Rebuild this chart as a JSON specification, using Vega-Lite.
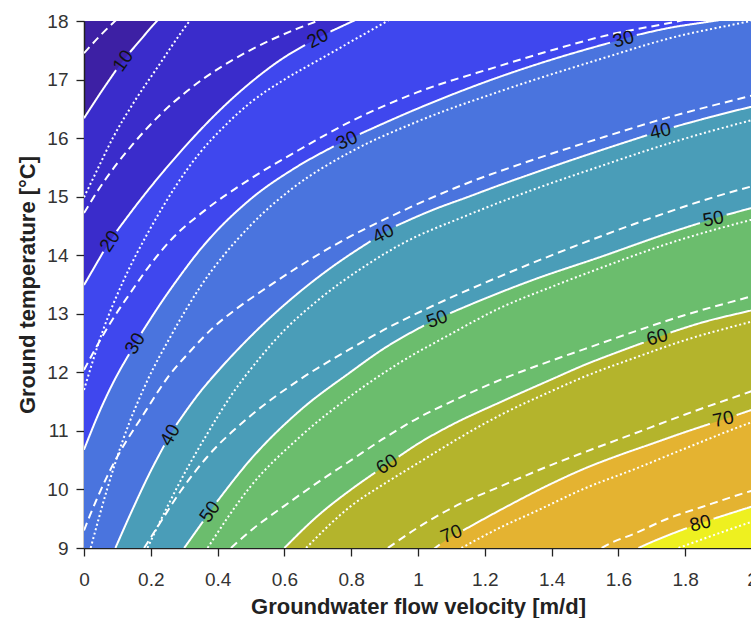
{
  "$schema": "https://vega.github.io/schema/vega-lite/v6.json",
  "width": 668,
  "height": 527,
  "autosize": {"type": "none"},
  "padding": {"left": 84, "top": 21, "right": 0, "bottom": 70},
  "background": "white",
  "config": {
    "view": {"fill": "#3d20a4", "stroke": null},
    "font": "Liberation Sans",
    "axis": {"grid": false, "domainColor": "#222", "tickColor": "#222", "labelColor": "#333", "titleColor": "#222", "labelFont": "Liberation Sans", "titleFont": "Liberation Sans", "labelFontSize": 19, "titleFontSize": 22, "titleFontWeight": "bold", "tickSize": 8, "domainWidth": 1.5, "tickWidth": 1.3, "labelFlush": false, "labelOverlap": false}
  },
  "datasets": {
    "curves": [
      {"lvl":10,"sty":"solid","seg":"a","v":0,"T":16.34},
      {"lvl":10,"sty":"solid","seg":"a","v":0.048,"T":16.76},
      {"lvl":10,"sty":"solid","seg":"a","v":0.096,"T":17.16},
      {"lvl":10,"sty":"solid","seg":"b","v":0.138,"T":17.47},
      {"lvl":10,"sty":"solid","seg":"b","v":0.168,"T":17.67},
      {"lvl":10,"sty":"solid","seg":"b","v":0.204,"T":17.91},
      {"lvl":10,"sty":"solid","seg":"b","v":0.3,"T":18.45},
      {"lvl":10,"sty":"solid","seg":"b","v":0.6,"T":19.5},
      {"lvl":10,"sty":"solid","seg":"b","v":2.05,"T":22},

      {"lvl":20,"sty":"solid","seg":"a","v":0,"T":13.49},
      {"lvl":20,"sty":"solid","seg":"a","v":0.058,"T":14.06},
      {"lvl":20,"sty":"solid","seg":"b","v":0.098,"T":14.41},
      {"lvl":20,"sty":"solid","seg":"b","v":0.168,"T":14.94},
      {"lvl":20,"sty":"solid","seg":"b","v":0.297,"T":15.82},
      {"lvl":20,"sty":"solid","seg":"b","v":0.4,"T":16.44},
      {"lvl":20,"sty":"solid","seg":"b","v":0.497,"T":16.94},
      {"lvl":20,"sty":"solid","seg":"b","v":0.6,"T":17.38},
      {"lvl":20,"sty":"solid","seg":"b","v":0.662,"T":17.59},
      {"lvl":20,"sty":"solid","seg":"c","v":0.738,"T":17.82},
      {"lvl":20,"sty":"solid","seg":"c","v":0.806,"T":18.0},
      {"lvl":20,"sty":"solid","seg":"c","v":1.2,"T":19},
      {"lvl":20,"sty":"solid","seg":"c","v":2.05,"T":21},

      {"lvl":30,"sty":"solid","seg":"a","v":0,"T":10.68},
      {"lvl":30,"sty":"solid","seg":"a","v":0.048,"T":11.35},
      {"lvl":30,"sty":"solid","seg":"a","v":0.087,"T":11.82},
      {"lvl":30,"sty":"solid","seg":"a","v":0.135,"T":12.31},
      {"lvl":30,"sty":"solid","seg":"b","v":0.172,"T":12.67},
      {"lvl":30,"sty":"solid","seg":"b","v":0.237,"T":13.24},
      {"lvl":30,"sty":"solid","seg":"b","v":0.279,"T":13.58},
      {"lvl":30,"sty":"solid","seg":"b","v":0.347,"T":14.09},
      {"lvl":30,"sty":"solid","seg":"b","v":0.497,"T":14.95},
      {"lvl":30,"sty":"solid","seg":"b","v":0.626,"T":15.47},
      {"lvl":30,"sty":"solid","seg":"b","v":0.748,"T":15.86},
      {"lvl":30,"sty":"solid","seg":"c","v":0.826,"T":16.07},
      {"lvl":30,"sty":"solid","seg":"c","v":0.997,"T":16.5},
      {"lvl":30,"sty":"solid","seg":"c","v":1.246,"T":17.05},
      {"lvl":30,"sty":"solid","seg":"c","v":1.4,"T":17.34},
      {"lvl":30,"sty":"solid","seg":"c","v":1.575,"T":17.63},
      {"lvl":30,"sty":"solid","seg":"d","v":1.655,"T":17.76},
      {"lvl":30,"sty":"solid","seg":"d","v":1.75,"T":17.88},
      {"lvl":30,"sty":"solid","seg":"d","v":1.885,"T":18.0},
      {"lvl":30,"sty":"solid","seg":"d","v":2.05,"T":18.15},

      {"lvl":40,"sty":"solid","seg":"a","v":0.094,"T":9.0},
      {"lvl":40,"sty":"solid","seg":"a","v":0.147,"T":9.68},
      {"lvl":40,"sty":"solid","seg":"a","v":0.195,"T":10.26},
      {"lvl":40,"sty":"solid","seg":"a","v":0.24,"T":10.75},
      {"lvl":40,"sty":"solid","seg":"b","v":0.276,"T":11.1},
      {"lvl":40,"sty":"solid","seg":"b","v":0.347,"T":11.66},
      {"lvl":40,"sty":"solid","seg":"b","v":0.407,"T":12.06},
      {"lvl":40,"sty":"solid","seg":"b","v":0.5,"T":12.62},
      {"lvl":40,"sty":"solid","seg":"b","v":0.647,"T":13.38},
      {"lvl":40,"sty":"solid","seg":"b","v":0.75,"T":13.83},
      {"lvl":40,"sty":"solid","seg":"b","v":0.858,"T":14.24},
      {"lvl":40,"sty":"solid","seg":"c","v":0.934,"T":14.5},
      {"lvl":40,"sty":"solid","seg":"c","v":1.047,"T":14.78},
      {"lvl":40,"sty":"solid","seg":"c","v":1.147,"T":14.99},
      {"lvl":40,"sty":"solid","seg":"c","v":1.246,"T":15.2},
      {"lvl":40,"sty":"solid","seg":"c","v":1.345,"T":15.4},
      {"lvl":40,"sty":"solid","seg":"c","v":1.546,"T":15.79},
      {"lvl":40,"sty":"solid","seg":"c","v":1.686,"T":16.05},
      {"lvl":40,"sty":"solid","seg":"d","v":1.766,"T":16.19},
      {"lvl":40,"sty":"solid","seg":"d","v":1.995,"T":16.53},
      {"lvl":40,"sty":"solid","seg":"d","v":2.05,"T":16.6},

      {"lvl":50,"sty":"solid","seg":"a","v":0.3,"T":9.0},
      {"lvl":50,"sty":"solid","seg":"a","v":0.356,"T":9.45},
      {"lvl":50,"sty":"solid","seg":"b","v":0.398,"T":9.79},
      {"lvl":50,"sty":"solid","seg":"b","v":0.497,"T":10.5},
      {"lvl":50,"sty":"solid","seg":"b","v":0.647,"T":11.35},
      {"lvl":50,"sty":"solid","seg":"b","v":0.797,"T":12.0},
      {"lvl":50,"sty":"solid","seg":"b","v":0.896,"T":12.4},
      {"lvl":50,"sty":"solid","seg":"b","v":1.018,"T":12.8},
      {"lvl":50,"sty":"solid","seg":"c","v":1.096,"T":13.01},
      {"lvl":50,"sty":"solid","seg":"c","v":1.196,"T":13.25},
      {"lvl":50,"sty":"solid","seg":"c","v":1.345,"T":13.58},
      {"lvl":50,"sty":"solid","seg":"c","v":1.546,"T":13.97},
      {"lvl":50,"sty":"solid","seg":"c","v":1.746,"T":14.37},
      {"lvl":50,"sty":"solid","seg":"c","v":1.844,"T":14.55},
      {"lvl":50,"sty":"solid","seg":"d","v":1.924,"T":14.69},
      {"lvl":50,"sty":"solid","seg":"d","v":1.995,"T":14.8},
      {"lvl":50,"sty":"solid","seg":"d","v":2.05,"T":14.88},

      {"lvl":60,"sty":"solid","seg":"a","v":0.6,"T":9.0},
      {"lvl":60,"sty":"solid","seg":"a","v":0.7,"T":9.55},
      {"lvl":60,"sty":"solid","seg":"a","v":0.8,"T":10.0},
      {"lvl":60,"sty":"solid","seg":"a","v":0.872,"T":10.29},
      {"lvl":60,"sty":"solid","seg":"b","v":0.942,"T":10.56},
      {"lvl":60,"sty":"solid","seg":"b","v":1.0,"T":10.78},
      {"lvl":60,"sty":"solid","seg":"b","v":1.1,"T":11.1},
      {"lvl":60,"sty":"solid","seg":"b","v":1.25,"T":11.5},
      {"lvl":60,"sty":"solid","seg":"b","v":1.4,"T":11.88},
      {"lvl":60,"sty":"solid","seg":"b","v":1.5,"T":12.13},
      {"lvl":60,"sty":"solid","seg":"b","v":1.6,"T":12.35},
      {"lvl":60,"sty":"solid","seg":"b","v":1.676,"T":12.51},
      {"lvl":60,"sty":"solid","seg":"c","v":1.756,"T":12.68},
      {"lvl":60,"sty":"solid","seg":"c","v":1.85,"T":12.85},
      {"lvl":60,"sty":"solid","seg":"c","v":2.0,"T":13.06},
      {"lvl":60,"sty":"solid","seg":"c","v":2.05,"T":13.13},

      {"lvl":70,"sty":"solid","seg":"a","v":1.04,"T":8.95},
      {"lvl":70,"sty":"solid","seg":"a","v":1.065,"T":9.06},
      {"lvl":70,"sty":"solid","seg":"b","v":1.135,"T":9.3},
      {"lvl":70,"sty":"solid","seg":"b","v":1.25,"T":9.66},
      {"lvl":70,"sty":"solid","seg":"b","v":1.4,"T":10.1},
      {"lvl":70,"sty":"solid","seg":"b","v":1.5,"T":10.36},
      {"lvl":70,"sty":"solid","seg":"b","v":1.6,"T":10.58},
      {"lvl":70,"sty":"solid","seg":"b","v":1.7,"T":10.78},
      {"lvl":70,"sty":"solid","seg":"b","v":1.8,"T":10.98},
      {"lvl":70,"sty":"solid","seg":"b","v":1.874,"T":11.12},
      {"lvl":70,"sty":"solid","seg":"c","v":1.954,"T":11.27},
      {"lvl":70,"sty":"solid","seg":"c","v":2.0,"T":11.36},
      {"lvl":70,"sty":"solid","seg":"c","v":2.05,"T":11.45},

      {"lvl":80,"sty":"solid","seg":"a","v":1.66,"T":9.0},
      {"lvl":80,"sty":"solid","seg":"a","v":1.687,"T":9.07},
      {"lvl":80,"sty":"solid","seg":"a","v":1.75,"T":9.22},
      {"lvl":80,"sty":"solid","seg":"a","v":1.805,"T":9.34},
      {"lvl":80,"sty":"solid","seg":"b","v":1.885,"T":9.5},
      {"lvl":80,"sty":"solid","seg":"b","v":1.995,"T":9.7},
      {"lvl":80,"sty":"solid","seg":"b","v":2.05,"T":9.8},

      {"lvl":10,"sty":"dashed","seg":"a","v":0,"T":17.45},
      {"lvl":10,"sty":"dashed","seg":"a","v":0.05,"T":17.76},
      {"lvl":10,"sty":"dashed","seg":"a","v":0.093,"T":18.0},
      {"lvl":10,"sty":"dashed","seg":"a","v":0.15,"T":18.3},
      {"lvl":10,"sty":"dotted","seg":"a","v":0,"T":14.99},
      {"lvl":10,"sty":"dotted","seg":"a","v":0.039,"T":15.45},
      {"lvl":10,"sty":"dotted","seg":"a","v":0.087,"T":16.01},
      {"lvl":10,"sty":"dotted","seg":"a","v":0.147,"T":16.59},
      {"lvl":10,"sty":"dotted","seg":"a","v":0.219,"T":17.2},
      {"lvl":10,"sty":"dotted","seg":"a","v":0.303,"T":17.9},
      {"lvl":10,"sty":"dotted","seg":"a","v":0.35,"T":18.25},

      {"lvl":20,"sty":"dashed","seg":"a","v":0,"T":14.72},
      {"lvl":20,"sty":"dashed","seg":"a","v":0.048,"T":15.16},
      {"lvl":20,"sty":"dashed","seg":"a","v":0.147,"T":15.9},
      {"lvl":20,"sty":"dashed","seg":"a","v":0.228,"T":16.4},
      {"lvl":20,"sty":"dashed","seg":"a","v":0.308,"T":16.8},
      {"lvl":20,"sty":"dashed","seg":"a","v":0.497,"T":17.5},
      {"lvl":20,"sty":"dashed","seg":"a","v":0.626,"T":17.84},
      {"lvl":20,"sty":"dashed","seg":"a","v":0.698,"T":18.0},
      {"lvl":20,"sty":"dashed","seg":"a","v":0.8,"T":18.25},
      {"lvl":20,"sty":"dotted","seg":"a","v":0,"T":11.7},
      {"lvl":20,"sty":"dotted","seg":"a","v":0.057,"T":12.72},
      {"lvl":20,"sty":"dotted","seg":"a","v":0.117,"T":13.55},
      {"lvl":20,"sty":"dotted","seg":"a","v":0.198,"T":14.45},
      {"lvl":20,"sty":"dotted","seg":"a","v":0.347,"T":15.75},
      {"lvl":20,"sty":"dotted","seg":"a","v":0.42,"T":16.2},
      {"lvl":20,"sty":"dotted","seg":"a","v":0.497,"T":16.6},
      {"lvl":20,"sty":"dotted","seg":"a","v":0.6,"T":17.0},
      {"lvl":20,"sty":"dotted","seg":"a","v":0.698,"T":17.32},
      {"lvl":20,"sty":"dotted","seg":"a","v":0.8,"T":17.65},
      {"lvl":20,"sty":"dotted","seg":"a","v":0.908,"T":18.0},
      {"lvl":20,"sty":"dotted","seg":"a","v":1.0,"T":18.3},

      {"lvl":30,"sty":"dashed","seg":"a","v":0,"T":12.04},
      {"lvl":30,"sty":"dashed","seg":"a","v":0.027,"T":12.33},
      {"lvl":30,"sty":"dashed","seg":"a","v":0.084,"T":12.89},
      {"lvl":30,"sty":"dashed","seg":"a","v":0.138,"T":13.35},
      {"lvl":30,"sty":"dashed","seg":"a","v":0.2,"T":13.85},
      {"lvl":30,"sty":"dashed","seg":"a","v":0.27,"T":14.32},
      {"lvl":30,"sty":"dashed","seg":"a","v":0.356,"T":14.74},
      {"lvl":30,"sty":"dashed","seg":"a","v":0.497,"T":15.3},
      {"lvl":30,"sty":"dashed","seg":"a","v":0.638,"T":15.78},
      {"lvl":30,"sty":"dashed","seg":"a","v":0.797,"T":16.28},
      {"lvl":30,"sty":"dashed","seg":"a","v":0.997,"T":16.78},
      {"lvl":30,"sty":"dashed","seg":"a","v":1.237,"T":17.22},
      {"lvl":30,"sty":"dashed","seg":"a","v":1.4,"T":17.5},
      {"lvl":30,"sty":"dashed","seg":"a","v":1.576,"T":17.77},
      {"lvl":30,"sty":"dashed","seg":"a","v":1.765,"T":17.98},
      {"lvl":30,"sty":"dashed","seg":"a","v":1.9,"T":18.15},
      {"lvl":30,"sty":"dotted","seg":"a","v":0.02,"T":9.0},
      {"lvl":30,"sty":"dotted","seg":"a","v":0.069,"T":10.0},
      {"lvl":30,"sty":"dotted","seg":"a","v":0.117,"T":10.85},
      {"lvl":30,"sty":"dotted","seg":"a","v":0.189,"T":11.85},
      {"lvl":30,"sty":"dotted","seg":"a","v":0.258,"T":12.6},
      {"lvl":30,"sty":"dotted","seg":"a","v":0.347,"T":13.45},
      {"lvl":30,"sty":"dotted","seg":"a","v":0.497,"T":14.5},
      {"lvl":30,"sty":"dotted","seg":"a","v":0.626,"T":15.15},
      {"lvl":30,"sty":"dotted","seg":"a","v":0.797,"T":15.76},
      {"lvl":30,"sty":"dotted","seg":"a","v":0.997,"T":16.28},
      {"lvl":30,"sty":"dotted","seg":"a","v":1.246,"T":16.8},
      {"lvl":30,"sty":"dotted","seg":"a","v":1.546,"T":17.35},
      {"lvl":30,"sty":"dotted","seg":"a","v":1.75,"T":17.7},
      {"lvl":30,"sty":"dotted","seg":"a","v":1.995,"T":18.0},
      {"lvl":30,"sty":"dotted","seg":"a","v":2.05,"T":18.07},

      {"lvl":40,"sty":"dashed","seg":"a","v":0,"T":9.3},
      {"lvl":40,"sty":"dashed","seg":"a","v":0.018,"T":9.56},
      {"lvl":40,"sty":"dashed","seg":"a","v":0.069,"T":10.22},
      {"lvl":40,"sty":"dashed","seg":"a","v":0.189,"T":11.38},
      {"lvl":40,"sty":"dashed","seg":"a","v":0.249,"T":11.9},
      {"lvl":40,"sty":"dashed","seg":"a","v":0.318,"T":12.36},
      {"lvl":40,"sty":"dashed","seg":"a","v":0.386,"T":12.76},
      {"lvl":40,"sty":"dashed","seg":"a","v":0.46,"T":13.1},
      {"lvl":40,"sty":"dashed","seg":"a","v":0.548,"T":13.45},
      {"lvl":40,"sty":"dashed","seg":"a","v":0.746,"T":14.16},
      {"lvl":40,"sty":"dashed","seg":"a","v":0.947,"T":14.74},
      {"lvl":40,"sty":"dashed","seg":"a","v":1.147,"T":15.23},
      {"lvl":40,"sty":"dashed","seg":"a","v":1.345,"T":15.63},
      {"lvl":40,"sty":"dashed","seg":"a","v":1.546,"T":16.0},
      {"lvl":40,"sty":"dashed","seg":"a","v":1.747,"T":16.35},
      {"lvl":40,"sty":"dashed","seg":"a","v":1.995,"T":16.72},
      {"lvl":40,"sty":"dashed","seg":"a","v":2.05,"T":16.8},
      {"lvl":40,"sty":"dotted","seg":"a","v":0.19,"T":9.0},
      {"lvl":40,"sty":"dotted","seg":"a","v":0.249,"T":9.7},
      {"lvl":40,"sty":"dotted","seg":"a","v":0.309,"T":10.36},
      {"lvl":40,"sty":"dotted","seg":"a","v":0.368,"T":10.94},
      {"lvl":40,"sty":"dotted","seg":"a","v":0.44,"T":11.6},
      {"lvl":40,"sty":"dotted","seg":"a","v":0.527,"T":12.25},
      {"lvl":40,"sty":"dotted","seg":"a","v":0.6,"T":12.72},
      {"lvl":40,"sty":"dotted","seg":"a","v":0.698,"T":13.22},
      {"lvl":40,"sty":"dotted","seg":"a","v":0.848,"T":13.84},
      {"lvl":40,"sty":"dotted","seg":"a","v":0.947,"T":14.18},
      {"lvl":40,"sty":"dotted","seg":"a","v":1.147,"T":14.68},
      {"lvl":40,"sty":"dotted","seg":"a","v":1.345,"T":15.12},
      {"lvl":40,"sty":"dotted","seg":"a","v":1.546,"T":15.52},
      {"lvl":40,"sty":"dotted","seg":"a","v":1.746,"T":15.9},
      {"lvl":40,"sty":"dotted","seg":"a","v":1.995,"T":16.3},
      {"lvl":40,"sty":"dotted","seg":"a","v":2.05,"T":16.38},

      {"lvl":50,"sty":"dashed","seg":"a","v":0.18,"T":9.0},
      {"lvl":50,"sty":"dashed","seg":"a","v":0.228,"T":9.43},
      {"lvl":50,"sty":"dashed","seg":"a","v":0.288,"T":9.96},
      {"lvl":50,"sty":"dashed","seg":"a","v":0.368,"T":10.55},
      {"lvl":50,"sty":"dashed","seg":"a","v":0.497,"T":11.25},
      {"lvl":50,"sty":"dashed","seg":"a","v":0.647,"T":11.88},
      {"lvl":50,"sty":"dashed","seg":"a","v":0.797,"T":12.4},
      {"lvl":50,"sty":"dashed","seg":"a","v":0.896,"T":12.72},
      {"lvl":50,"sty":"dashed","seg":"a","v":1.046,"T":13.14},
      {"lvl":50,"sty":"dashed","seg":"a","v":1.246,"T":13.64},
      {"lvl":50,"sty":"dashed","seg":"a","v":1.396,"T":13.99},
      {"lvl":50,"sty":"dashed","seg":"a","v":1.546,"T":14.32},
      {"lvl":50,"sty":"dashed","seg":"a","v":1.7,"T":14.64},
      {"lvl":50,"sty":"dashed","seg":"a","v":1.845,"T":14.92},
      {"lvl":50,"sty":"dashed","seg":"a","v":1.995,"T":15.17},
      {"lvl":50,"sty":"dashed","seg":"a","v":2.05,"T":15.25},
      {"lvl":50,"sty":"dotted","seg":"a","v":0.37,"T":9.0},
      {"lvl":50,"sty":"dotted","seg":"a","v":0.497,"T":10.04},
      {"lvl":50,"sty":"dotted","seg":"a","v":0.647,"T":10.9},
      {"lvl":50,"sty":"dotted","seg":"a","v":0.797,"T":11.59},
      {"lvl":50,"sty":"dotted","seg":"a","v":0.947,"T":12.17},
      {"lvl":50,"sty":"dotted","seg":"a","v":1.087,"T":12.62},
      {"lvl":50,"sty":"dotted","seg":"a","v":1.246,"T":13.1},
      {"lvl":50,"sty":"dotted","seg":"a","v":1.4,"T":13.46},
      {"lvl":50,"sty":"dotted","seg":"a","v":1.546,"T":13.78},
      {"lvl":50,"sty":"dotted","seg":"a","v":1.75,"T":14.2},
      {"lvl":50,"sty":"dotted","seg":"a","v":1.995,"T":14.6},
      {"lvl":50,"sty":"dotted","seg":"a","v":2.05,"T":14.68},

      {"lvl":60,"sty":"dashed","seg":"a","v":0.44,"T":9.0},
      {"lvl":60,"sty":"dashed","seg":"a","v":0.5,"T":9.3},
      {"lvl":60,"sty":"dashed","seg":"a","v":0.6,"T":9.72},
      {"lvl":60,"sty":"dashed","seg":"a","v":0.7,"T":10.12},
      {"lvl":60,"sty":"dashed","seg":"a","v":0.8,"T":10.5},
      {"lvl":60,"sty":"dashed","seg":"a","v":0.9,"T":10.88},
      {"lvl":60,"sty":"dashed","seg":"a","v":1.0,"T":11.22},
      {"lvl":60,"sty":"dashed","seg":"a","v":1.1,"T":11.5},
      {"lvl":60,"sty":"dashed","seg":"a","v":1.25,"T":11.88},
      {"lvl":60,"sty":"dashed","seg":"a","v":1.4,"T":12.2},
      {"lvl":60,"sty":"dashed","seg":"a","v":1.5,"T":12.4},
      {"lvl":60,"sty":"dashed","seg":"a","v":1.65,"T":12.7},
      {"lvl":60,"sty":"dashed","seg":"a","v":1.8,"T":12.98},
      {"lvl":60,"sty":"dashed","seg":"a","v":2.0,"T":13.3},
      {"lvl":60,"sty":"dashed","seg":"a","v":2.05,"T":13.38},
      {"lvl":60,"sty":"dotted","seg":"a","v":0.665,"T":9.0},
      {"lvl":60,"sty":"dotted","seg":"a","v":0.8,"T":9.72},
      {"lvl":60,"sty":"dotted","seg":"a","v":0.9,"T":10.1},
      {"lvl":60,"sty":"dotted","seg":"a","v":1.0,"T":10.45},
      {"lvl":60,"sty":"dotted","seg":"a","v":1.1,"T":10.8},
      {"lvl":60,"sty":"dotted","seg":"a","v":1.25,"T":11.28},
      {"lvl":60,"sty":"dotted","seg":"a","v":1.4,"T":11.68},
      {"lvl":60,"sty":"dotted","seg":"a","v":1.5,"T":11.93},
      {"lvl":60,"sty":"dotted","seg":"a","v":1.65,"T":12.25},
      {"lvl":60,"sty":"dotted","seg":"a","v":1.8,"T":12.55},
      {"lvl":60,"sty":"dotted","seg":"a","v":2.0,"T":12.87},
      {"lvl":60,"sty":"dotted","seg":"a","v":2.05,"T":12.95},

      {"lvl":70,"sty":"dashed","seg":"a","v":0.91,"T":9.0},
      {"lvl":70,"sty":"dashed","seg":"a","v":1.0,"T":9.35},
      {"lvl":70,"sty":"dashed","seg":"a","v":1.1,"T":9.68},
      {"lvl":70,"sty":"dashed","seg":"a","v":1.25,"T":10.06},
      {"lvl":70,"sty":"dashed","seg":"a","v":1.4,"T":10.42},
      {"lvl":70,"sty":"dashed","seg":"a","v":1.5,"T":10.64},
      {"lvl":70,"sty":"dashed","seg":"a","v":1.65,"T":10.96},
      {"lvl":70,"sty":"dashed","seg":"a","v":1.8,"T":11.28},
      {"lvl":70,"sty":"dashed","seg":"a","v":2.0,"T":11.68},
      {"lvl":70,"sty":"dashed","seg":"a","v":2.05,"T":11.78},
      {"lvl":70,"sty":"dotted","seg":"a","v":1.13,"T":9.0},
      {"lvl":70,"sty":"dotted","seg":"a","v":1.25,"T":9.36},
      {"lvl":70,"sty":"dotted","seg":"a","v":1.35,"T":9.62},
      {"lvl":70,"sty":"dotted","seg":"a","v":1.5,"T":10.02},
      {"lvl":70,"sty":"dotted","seg":"a","v":1.65,"T":10.35},
      {"lvl":70,"sty":"dotted","seg":"a","v":1.8,"T":10.7},
      {"lvl":70,"sty":"dotted","seg":"a","v":2.0,"T":11.15},
      {"lvl":70,"sty":"dotted","seg":"a","v":2.05,"T":11.25},

      {"lvl":80,"sty":"dashed","seg":"a","v":1.55,"T":9.0},
      {"lvl":80,"sty":"dashed","seg":"a","v":1.576,"T":9.08},
      {"lvl":80,"sty":"dashed","seg":"a","v":1.65,"T":9.25},
      {"lvl":80,"sty":"dashed","seg":"a","v":1.747,"T":9.5},
      {"lvl":80,"sty":"dashed","seg":"a","v":1.85,"T":9.7},
      {"lvl":80,"sty":"dashed","seg":"a","v":1.995,"T":9.97},
      {"lvl":80,"sty":"dashed","seg":"a","v":2.05,"T":10.06},
      {"lvl":80,"sty":"dotted","seg":"a","v":1.78,"T":9.0},
      {"lvl":80,"sty":"dotted","seg":"a","v":1.9,"T":9.25},
      {"lvl":80,"sty":"dotted","seg":"a","v":2.0,"T":9.45},
      {"lvl":80,"sty":"dotted","seg":"a","v":2.05,"T":9.55}
    ],
    "labels": [
      {"txt":"10","v":0.117,"T":17.32,"ang":-55},
      {"txt":"20","v":0.078,"T":14.24,"ang":-57},
      {"txt":"20","v":0.7,"T":17.7,"ang":-28},
      {"txt":"30","v":0.153,"T":12.49,"ang":-59},
      {"txt":"30","v":0.787,"T":15.96,"ang":-25},
      {"txt":"30","v":1.615,"T":17.69,"ang":-15},
      {"txt":"40","v":0.258,"T":10.93,"ang":-60},
      {"txt":"40","v":0.896,"T":14.37,"ang":-27},
      {"txt":"40","v":1.726,"T":16.12,"ang":-13},
      {"txt":"50","v":0.377,"T":9.62,"ang":-55},
      {"txt":"50","v":1.057,"T":12.91,"ang":-20},
      {"txt":"50","v":1.884,"T":14.62,"ang":-10},
      {"txt":"60","v":0.907,"T":10.43,"ang":-33},
      {"txt":"60","v":1.716,"T":12.6,"ang":-15},
      {"txt":"70","v":1.1,"T":9.24,"ang":-22},
      {"txt":"70","v":1.914,"T":11.2,"ang":-12},
      {"txt":"80","v":1.845,"T":9.42,"ang":-14}
    ]
  },
  "encoding": {
    "x": {"field": "v", "type": "quantitative", "scale": {"domain": [0, 2], "nice": false, "zero": false},
      "axis": {"title": "Groundwater flow velocity [m/d]", "values": [0,0.2,0.4,0.6,0.8,1,1.2,1.4,1.6,1.8,2], "format": "~g", "labelPadding": 14, "titlePadding": 7}},
    "y": {"field": "T", "type": "quantitative", "stack": null, "scale": {"domain": [9, 18], "nice": false, "zero": false},
      "axis": {"title": "Ground temperature [°C]", "values": [9,10,11,12,13,14,15,16,17,18], "format": "d", "labelPadding": 8, "titlePadding": 7}}
  },
  "layer": [
    {
      "data": {"name": "curves"},
      "transform": [{"filter": "datum.sty === 'solid'"}],
      "mark": {"type": "area", "clip": true, "interpolate": "monotone"},
      "encoding": {
        "y2": {"datum": 9},
        "color": {"field": "lvl", "type": "ordinal", "legend": null,
          "scale": {"domain": [10,20,30,40,50,60,70,80], "range": ["#3a2ccb","#3f47ee","#4a74de","#4a9db8","#6bbd6d","#b4b42c","#e4b331","#eef020"]}}
      }
    },
    {
      "data": {"name": "curves"},
      "mark": {"type": "line", "clip": true, "interpolate": "monotone", "color": "white", "strokeCap": "butt"},
      "encoding": {
        "detail": [{"field": "lvl"}, {"field": "sty"}, {"field": "seg"}],
        "strokeDash": {"field": "sty", "type": "nominal", "legend": null,
          "scale": {"domain": ["solid","dashed","dotted"], "range": [[1,0],[8,5],[2,2.6]]}},
        "strokeWidth": {"field": "sty", "type": "nominal", "legend": null,
          "scale": {"domain": ["solid","dashed","dotted"], "range": [2,2,2.2]}}
      }
    },
    {
      "data": {"name": "labels"},
      "mark": {"type": "text", "fontSize": 19, "color": "#111", "align": "center", "baseline": "middle", "font": "Liberation Sans"},
      "encoding": {
        "text": {"field": "txt"},
        "angle": {"field": "ang", "type": "quantitative", "scale": null}
      }
    }
  ]
}
